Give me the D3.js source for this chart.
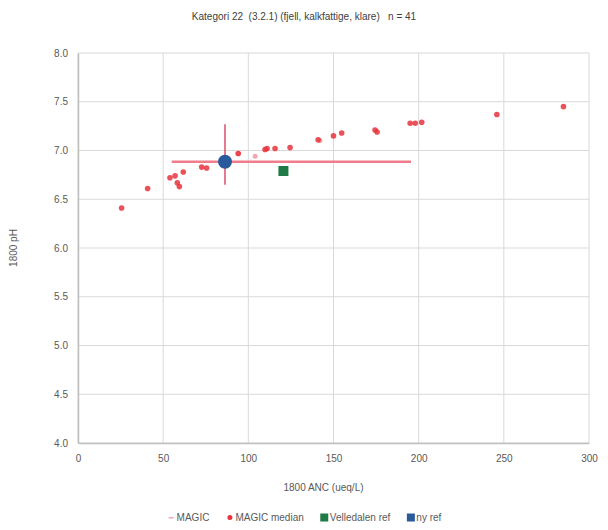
<!DOCTYPE html>
<html><head><meta charset="utf-8">
<script src="https://cdn.jsdelivr.net/npm/d3@7"></script>
<style>body{margin:0;background:#fff;font-family:"Liberation Sans",Arial,sans-serif;}</style>
</head><body><svg id="c" width="608" height="530"></svg>
<script>
const title = "Kategori 22  (3.2.1) (fjell, kalkfattige, klare)   n = 41";
const xTicks = [0, 50, 100, 150, 200, 250, 300];
const yTicks = [4.0, 4.5, 5.0, 5.5, 6.0, 6.5, 7.0, 7.5, 8.0];
const magicANC = [104, 94, 142];
const magicPH = [6.94, 6.97, 7.10];
const medianANC = [25.6, 40.9, 54, 57, 61.8, 58.3, 59.5, 72.6, 75.5, 94.1, 109.8, 111, 115.7, 124.5, 141, 150, 154.8, 174.4, 175.6, 195, 198, 201.8, 245.9, 285];
const medianPH  = [6.41, 6.61, 6.72, 6.74, 6.78, 6.67, 6.63, 6.83, 6.82, 6.97, 7.01, 7.02, 7.02, 7.03, 7.11, 7.15, 7.18, 7.21, 7.19, 7.28, 7.28, 7.29, 7.37, 7.45];
const vellANC = [120.6];
const vellPH = [6.79];
const nyANC = [86.3];
const nyPH = [6.885];
const nyANCrange = [55, 195.5];
const nyPHrange = [6.65, 7.27];
const legendLabels = ["MAGIC", "MAGIC median", "Velledalen ref", "ny ref"];

const svg = d3.select("#c");
const L = 78, R = 589, T = 53, B = 443;
const x = d3.scaleLinear().domain([0, 300]).range([L, R]);
const y = d3.scaleLinear().domain([4, 8]).range([B, T]);
const grid = "#d9d9d9", txt = "#595959";

svg.append("text").attr("x", 304).attr("y", 20).attr("text-anchor", "middle")
  .attr("font-size", 10).attr("fill", "#404040").attr("xml:space", "preserve").style("white-space", "pre").text(title);

// grid
svg.append("g").selectAll("line").data(yTicks).join("line")
  .attr("x1", L).attr("x2", R).attr("y1", d => y(d)).attr("y2", d => y(d))
  .attr("stroke", grid).attr("stroke-width", 1);
svg.append("g").selectAll("line").data(xTicks).join("line")
  .attr("y1", T).attr("y2", B).attr("x1", d => x(d)).attr("x2", d => x(d))
  .attr("stroke", grid).attr("stroke-width", 1);

// axes
const xa = svg.append("g").attr("transform", `translate(0,${B})`)
  .call(d3.axisBottom(x).tickValues(xTicks).tickSize(0).tickPadding(12).tickFormat(d3.format("d")));
const ya = svg.append("g").attr("transform", `translate(${L},0)`)
  .call(d3.axisLeft(y).tickValues(yTicks).tickSize(0).tickPadding(10).tickFormat(d3.format(".1f")));
[xa, ya].forEach(a => {
  a.select(".domain").attr("stroke", "#bfbfbf").attr("stroke-width", 1.5);
  a.selectAll("text").attr("font-size", 10).attr("fill", txt).attr("font-family", "Liberation Sans, Arial, sans-serif");
});

svg.append("text").attr("x", (L + R) / 2 - 10).attr("y", 491).attr("text-anchor", "middle")
  .attr("font-size", 10).attr("fill", txt).text("1800 ANC (ueq/L)");
svg.append("text").attr("transform", `translate(17,${(T + B) / 2}) rotate(-90)`).attr("text-anchor", "middle")
  .attr("font-size", 10).attr("fill", txt).text("1800 pH");

// MAGIC
svg.append("g").selectAll("circle").data(magicANC).join("circle")
  .attr("cx", d => x(d)).attr("cy", (d, i) => y(magicPH[i])).attr("r", 2.5)
  .attr("fill", "#f4a6b4");
// error bars
svg.append("line").attr("x1", x(nyANCrange[0])).attr("x2", x(nyANCrange[1]))
  .attr("y1", y(nyPH[0])).attr("y2", y(nyPH[0])).attr("stroke", "#f07c8c").attr("stroke-width", 2.5);
svg.append("line").attr("x1", x(nyANC[0])).attr("x2", x(nyANC[0]))
  .attr("y1", y(nyPHrange[0])).attr("y2", y(nyPHrange[1])).attr("stroke", "#d9506a").attr("stroke-width", 1.5);
// MAGIC median
svg.append("g").selectAll("circle").data(medianANC).join("circle")
  .attr("cx", d => x(d)).attr("cy", (d, i) => y(medianPH[i])).attr("r", 2.8)
  .attr("fill", "#e8323c").attr("fill-opacity", 0.85);
// Velledalen ref
svg.append("g").selectAll("rect").data(vellANC).join("rect")
  .attr("x", d => x(d) - 5).attr("y", (d, i) => y(vellPH[i]) - 5).attr("width", 10).attr("height", 10)
  .attr("fill", "#1f7a45");
// ny ref
svg.append("g").selectAll("circle").data(nyANC).join("circle")
  .attr("cx", d => x(d)).attr("cy", (d, i) => y(nyPH[i])).attr("r", 7)
  .attr("fill", "#2a5a9c");

// legend (laid out from measured text widths, centred)
const lg = svg.append("g");
const ly = 521, gap = 16, sym = 10;
const items = legendLabels.map((t, i) => {
  const g = lg.append("g");
  const tx = g.append("text").attr("x", sym).attr("y", ly).attr("font-size", 10).attr("fill", txt).text(t);
  if (i === 0) g.append("rect").attr("x", 2).attr("y", ly - 4).attr("width", 5).attr("height", 1.5).attr("fill", "#f4a6b4");
  if (i === 1) g.append("circle").attr("cx", 4.5).attr("cy", ly - 3.5).attr("r", 2.5).attr("fill", "#e8323c");
  if (i === 2) g.append("rect").attr("x", 0.5).attr("y", ly - 7.5).attr("width", 8).attr("height", 8).attr("fill", "#1f7a45");
  if (i === 3) g.append("rect").attr("x", 0.5).attr("y", ly - 7.5).attr("width", 8).attr("height", 8).attr("fill", "#2a5a9c");
  return {g, w: sym + tx.node().getComputedTextLength()};
});
const total = d3.sum(items, d => d.w) + gap * (items.length - 1);
let cx = 304 - total / 2;
items.forEach(d => { d.g.attr("transform", `translate(${cx},0)`); cx += d.w + gap; });
</script></body></html>
